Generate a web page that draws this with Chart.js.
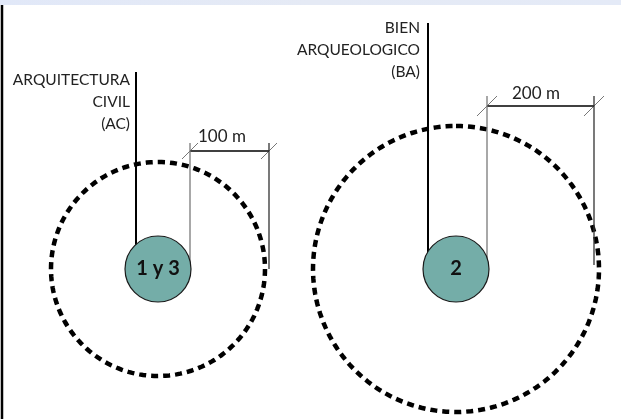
<!DOCTYPE html>
<html><head><meta charset="utf-8">
<script src="https://cdn.jsdelivr.net/npm/chart.js@4.4.1/dist/chart.umd.min.js"></script>
<style>html,body{margin:0;padding:0;background:#fff;}#wrap{width:621px;height:419px;}</style>
</head><body><div id="wrap"><canvas id="c" width="621" height="419"></canvas></div>
<script>
// ---- data (diagram units: 1 unit = 1 px of reference) ----
const siteLabels = ['1 y 3', '2'];
const siteX = [158, 456];
const siteY = [269, 269];
const siteRadius = [33, 33];
const bufferRadius = [107, 143];
const bufferLabels = ['100 m', '200 m'];
const categoryLabels = [['ARQUITECTURA', 'CIVIL', '(AC)'], ['BIEN', 'ARQUEOLOGICO', '(BA)']];
const categoryTextRight = [130, 420];
const categoryTextBaseline = [85, 33];
const leaderX = [136, 428];
const leaderTopY = [72, 23];
const dimLeftX = [190, 487];
const dimRightX = [269, 594];
const dimTopY = [143, 96];
const dimLineY = [151, 106];
const dimLeftBottomY = [265, 263];
const dimRightBottomY = [269, 265];
const dimSlash = [8, 10];
const dimTextX = [198, 512];
const dimTextBaseline = [142, 99];

// ---- build datasets ----
const datasets = [];
datasets.push({
  data: siteX.map((x, i) => ({x, y: siteY[i]})),
  pointRadius: siteRadius,
  pointBackgroundColor: '#74ada8',
  pointBorderColor: '#1a1a1a',
  pointBorderWidth: 1.2,
  showLine: false,
  clip: false,
  order: 0
});
function seg(pts, color, width, extra) {
  datasets.push(Object.assign({
    data: pts, showLine: true, pointRadius: 0, borderColor: color,
    borderWidth: width, fill: false, tension: 0, clip: false, order: 2
  }, extra || {}));
}
bufferRadius.forEach((r, i) => {
  const pts = [];
  const n = 180;
  for (let k = 0; k <= n; k++) {
    const a = -Math.PI / 2 + 2 * Math.PI * k / n;
    pts.push({x: siteX[i] + r * Math.cos(a), y: siteY[i] + r * Math.sin(a)});
  }
  seg(pts, '#000', 4.5, {borderDash: [7, 5], order: 3});
});
seg([{x: 2, y: 5}, {x: 2, y: 419}], '#000', 2.5);
leaderX.forEach((x, i) => seg([{x, y: leaderTopY[i]}, {x, y: siteY[i] - 10}], '#000', 2));
dimLeftX.forEach((lx, i) => {
  const rx = dimRightX[i], ty = dimTopY[i], ly = dimLineY[i], s = dimSlash[i];
  seg([{x: lx, y: ty}, {x: lx, y: dimLeftBottomY[i]}], '#7a7a7a', 1.3);
  seg([{x: rx, y: ty}, {x: rx, y: dimRightBottomY[i]}], '#333', 1.3);
  seg([{x: lx, y: ly}, {x: rx, y: ly}], '#000', 1.3);
  seg([{x: lx - s, y: ly + s}, {x: lx + s, y: ly - s}], '#777', 1);
  seg([{x: rx - s, y: ly + s}, {x: rx + s, y: ly - s}], '#777', 1);
});

const decor = {
  id: 'decor',
  beforeDraw(chart) {
    const ctx = chart.ctx;
    ctx.save();
    ctx.fillStyle = '#fff';
    ctx.fillRect(0, 0, chart.width, chart.height);
    const xs = chart.scales.x, ys = chart.scales.y;
    const g = ctx.createLinearGradient(0, 0, chart.width, 0);
    g.addColorStop(0, '#e1e8f8');
    g.addColorStop(0.5, '#e5eaf5');
    g.addColorStop(1, '#e4eaf7');
    ctx.fillStyle = g;
    ctx.fillRect(xs.getPixelForValue(0), ys.getPixelForValue(0), xs.getPixelForValue(621) - xs.getPixelForValue(0), ys.getPixelForValue(5) - ys.getPixelForValue(0));
    ctx.restore();
  },
  afterDatasetsDraw(chart) {
    const ctx = chart.ctx;
    const xs = chart.scales.x, ys = chart.scales.y;
    ctx.save();
    ctx.fillStyle = '#222';
    ctx.font = '15.5px Lato';
    ctx.textAlign = 'right';
    ctx.textBaseline = 'alphabetic';
    categoryLabels.forEach((lines, i) => {
      lines.forEach((t, j) => {
        ctx.fillText(t, xs.getPixelForValue(categoryTextRight[i]), ys.getPixelForValue(categoryTextBaseline[i] + j * 22));
      });
    });
    ctx.font = '17px Lato';
    ctx.textAlign = 'left';
    bufferLabels.forEach((t, i) => {
      ctx.fillText(t, xs.getPixelForValue(dimTextX[i]), ys.getPixelForValue(dimTextBaseline[i]));
    });
    ctx.fillStyle = '#111';
    ctx.font = 'bold 20px Lato';
    ctx.textAlign = 'center';
    ctx.textBaseline = 'middle';
    siteLabels.forEach((t, i) => {
      ctx.fillText(t, xs.getPixelForValue(siteX[i]), ys.getPixelForValue(siteY[i]));
    });
    ctx.restore();
  }
};

new Chart(document.getElementById('c'), {
  type: 'scatter',
  data: {datasets},
  options: {
    responsive: false,
    devicePixelRatio: 1,
    animation: false,
    events: [],
    layout: {padding: 0, autoPadding: false},
    plugins: {legend: {display: false}, tooltip: {enabled: false}},
    scales: {
      x: {type: 'linear', min: 0, max: 621, display: false},
      y: {type: 'linear', min: 0, max: 419, reverse: true, display: false}
    }
  },
  plugins: [decor]
});
</script>
</body></html>
